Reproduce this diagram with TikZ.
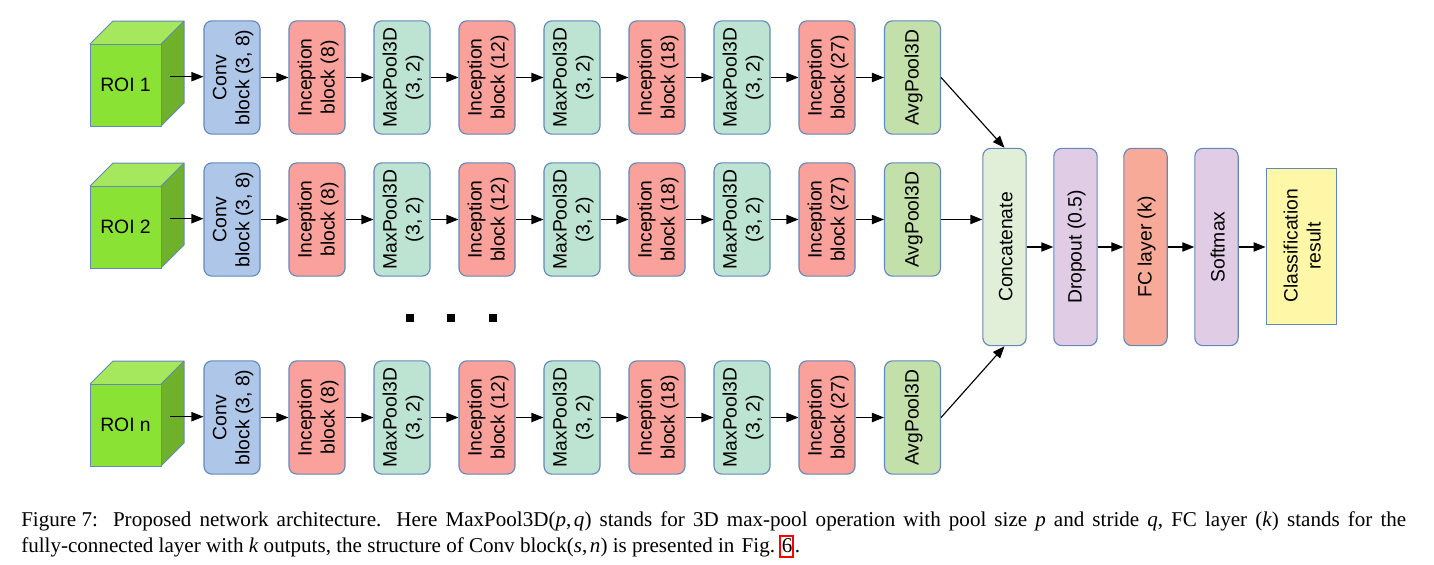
\documentclass[tikz,border=0pt]{standalone}
\usepackage{fontspec}
\setmainfont{Liberation Sans}
\newfontfamily\capfont{Liberation Serif}
\usetikzlibrary{arrows.meta}
\definecolor{edgeblue}{HTML}{6288BC}
\definecolor{convc}{HTML}{AEC6E8}
\definecolor{incc}{HTML}{F9A19A}
\definecolor{maxc}{HTML}{BDE3D3}
\definecolor{avgc}{HTML}{C3E0AB}
\definecolor{catc}{HTML}{E1EFD8}
\definecolor{dropc}{HTML}{E0CCE5}
\definecolor{fcc}{HTML}{F8AA98}
\definecolor{resc}{HTML}{FFF7A8}
\definecolor{cfront}{HTML}{8AE234}
\definecolor{ctop}{HTML}{A6E85D}
\definecolor{cside}{HTML}{6FB12A}
\tikzset{
  x=0.75pt,y=-0.75pt,
  blockbox/.style={draw=edgeblue,line width=0.85pt,rounded corners=6pt,minimum width=42pt,minimum height=85pt,inner sep=0pt,align=center},
  blocktext/.style={rotate=90,xshift=0pt,yshift=-0.9pt,font=\fontsize{14.5}{17.2}\selectfont,align=center,inner sep=0pt},
  tallbox/.style={blockbox,minimum width=32.5pt,minimum height=148pt},
  flow/.style={-{Triangle[length=9pt,width=7pt]},line width=0.85pt,black},
  cubeedge/.style={draw=edgeblue,line width=0.75pt,line join=round},
  capline/.style={anchor=base west,inner sep=0pt,font=\capfont\fontsize{15.8}{18}\selectfont},
}
\newcommand{\blk}[5]{% name, center x, center y, color, text
  \node[blockbox,fill=#4] (#1) at (#2,#3) {};
  \node[blocktext] at (#1.center) {#5};
}
\begin{document}
\begin{tikzpicture}
\useasboundingbox (0,0) rectangle (1434,564);
\foreach \rr/\yy/\lab in {1/77.5/ROI 1,2/219.5/ROI 2,3/417.5/ROI n}{
  \begin{scope}[shift={(0,\yy-77.5)}]
    \fill[ctop] (90,44) -- (113,21) -- (184,21) -- (161,44) -- cycle;
    \fill[cside] (161,44) -- (184,21) -- (184,103) -- (161,126) -- cycle;
    \draw[cubeedge] (90,44) -- (113,21) -- (184,21) -- (184,103) -- (161,126);
    \draw[cubeedge] (161,44) -- (184,21);
    \node[draw=edgeblue,line width=0.75pt,fill=cfront,minimum width=53.25pt,minimum height=61.5pt,inner sep=0pt,font=\fontsize{14.5}{16.5}\selectfont] (cube\rr) at (125.5,85) {\lab};
    \coordinate (start\rr) at (170,76.7);
  \end{scope}
  \blk{conv\rr}{232}{\yy}{convc}{Conv\\block (3, 8)}
  \blk{ia\rr}{317}{\yy}{incc}{Inception\\block (8)}
  \blk{ma\rr}{402}{\yy}{maxc}{MaxPool3D\\(3, 2)}
  \blk{ib\rr}{487}{\yy}{incc}{Inception\\block (12)}
  \blk{mb\rr}{572}{\yy}{maxc}{MaxPool3D\\(3, 2)}
  \blk{ic\rr}{657}{\yy}{incc}{Inception\\block (18)}
  \blk{mc\rr}{742}{\yy}{maxc}{MaxPool3D\\(3, 2)}
  \blk{id\rr}{827}{\yy}{incc}{Inception\\block (27)}
  \blk{avg\rr}{912.5}{\yy}{avgc}{AvgPool3D}
  \draw[flow] (start\rr) -- (start\rr -| conv\rr.west);
  \draw[flow] (conv\rr) -- (ia\rr);
  \draw[flow] (ia\rr) -- (ma\rr);
  \draw[flow] (ma\rr) -- (ib\rr);
  \draw[flow] (ib\rr) -- (mb\rr);
  \draw[flow] (mb\rr) -- (ic\rr);
  \draw[flow] (ic\rr) -- (mc\rr);
  \draw[flow] (mc\rr) -- (id\rr);
  \draw[flow] (id\rr) -- (avg\rr);
}
\foreach \dd/\dx in {da/410,db/451,dc/493}{
  \node[fill=black,minimum size=6pt,inner sep=0pt] (\dd) at (\dx,318) {};
}
\node[tallbox,fill=catc] (concat) at (1004.5,247) {};
\node[blocktext] at (concat.center) {Concatenate};
\node[tallbox,fill=dropc] (drop) at (1075.5,247) {};
\node[blocktext] at (drop.center) {Dropout (0.5)};
\node[tallbox,fill=fcc] (fc) at (1145.5,247) {};
\node[blocktext] at (fc.center) {FC layer (k)};
\node[tallbox,fill=dropc] (soft) at (1216.5,247) {};
\node[blocktext] at (soft.center) {Softmax};
\node[draw=edgeblue,line width=0.7pt,fill=resc,minimum width=52.5pt,minimum height=117pt,inner sep=0pt] (res) at (1301,246) {};
\node[blocktext] at (res.center) {Classification\\result};
\draw[flow] (avg1.east) -- (concat.north);
\draw[flow] (avg2.east) -- (avg2.east -| concat.west);
\draw[flow] (avg3.east) -- (concat.south);
\draw[flow] (concat) -- (drop);
\draw[flow] (drop) -- (fc);
\draw[flow] (fc) -- (soft);
\draw[flow] (soft) -- (res.west |- soft.east);
\node[capline] (cap1) at (21,526) {\hbox to 1038.75pt{Figure 7: \hfill Proposed\hfill network\hfill architecture. \hfill Here\hfill MaxPool3D(\textit{p},\kern2pt\textit{q})\hfill stands\hfill for\hfill 3D\hfill max-pool\hfill operation\hfill with\hfill pool\hfill size\hfill \textit{p}\hfill and\hfill stride\hfill \textit{q},\hfill FC\hfill layer\hfill (\textit{k})\hfill stands\hfill for\hfill the}};
\node[capline] (cap2) at (21,552) {fully-connected layer with \textit{k} outputs, the structure of Conv block(\textit{s},\kern2pt\textit{n}) is presented in \kern1.5pt Fig.\kern5pt 6\kern2pt.};
\node[draw=red,line width=1.5pt,minimum width=10pt,minimum height=16pt,inner sep=0pt] (capref) at (786.5,546.5) {};
\end{tikzpicture}
\end{document}
